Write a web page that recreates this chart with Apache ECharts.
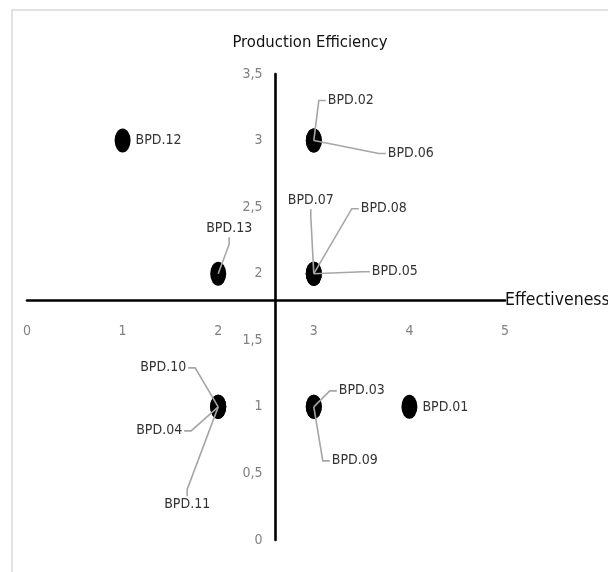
<!DOCTYPE html>
<html>
<head>
<meta charset="utf-8">
<script src="https://cdn.jsdelivr.net/npm/echarts@6/dist/echarts.min.js"></script>
<style>
html,body{margin:0;padding:0;background:#fff;}
#chart{width:608px;height:572px;}
</style>
</head>
<body>
<div id="chart"></div>
<script>
// ---- data ----
const names = ['BPD.01','BPD.02','BPD.03','BPD.04','BPD.05','BPD.06','BPD.07','BPD.08','BPD.09','BPD.10','BPD.11','BPD.12','BPD.13'];
const effectiveness = [4,3,3,2,3,3,3,3,3,2,2,1,2];
const productionEfficiency = [1,3,1,1,2,3,2,2,1,1,1,3,2];
const xTickLabels = ['0','1','2','3','4','5'];
const yTickLabels = ['0','0,5','1','1,5','2','2,5','3','3,5'];
const xAxisTitle = 'Effectiveness';
const yAxisTitle = 'Production Efficiency';
// axis crossing values (where each axis line crosses the other axis)
const xCross = 2.6;
const yCross = 1.8;

// ---- layout / style ----
const FONT = "'DejaVu Sans Condensed','Liberation Sans',sans-serif";
const LABEL_SIZE = 14;
const grid = {left: 27, top: 74, width: 478, height: 466};
const xMin = 0, xMax = 5, yMin = 0, yMax = 3.5;
const SYM_W = 16, SYM_H = 24, LABEL_DIST = 5;
const labelDx = [0, 1, 12, -95, 45, 61, -39, 34, 5, -91, -67, 0, -25];
const labelDy = [1, -40, -16, 24, -2, 13, -73, -65, 54, -39, 98, 0, -45];
const leaderSide = ['none','left','left','right','left','left','bottom','left','left','right','top','none','bottom'];
const LEADER_STUB = 7;

const chart = echarts.init(document.getElementById('chart'), null, {renderer: 'canvas'});

const measureCtx = document.createElement('canvas').getContext('2d');
measureCtx.font = LABEL_SIZE + 'px ' + FONT;

const points = names.map((n, i) => ({name: n, value: [effectiveness[i], productionEfficiency[i]]}));

const xOffset = -(yCross - yMin) / (yMax - yMin) * grid.height;
const yOffset = -(xCross - xMin) / (xMax - xMin) * grid.width;

function renderLeader(params, api) {
  const i = params.dataIndex;
  const side = leaderSide[i];
  if (side === 'none') return null;
  const c = api.coord([api.value(0), api.value(1)]);
  const w = measureCtx.measureText(names[i]).width;
  const h = LABEL_SIZE + 3;
  const left = c[0] + SYM_W / 2 + LABEL_DIST + labelDx[i];
  const cy = c[1] + labelDy[i];
  let a, d;
  if (side === 'left') { a = [left - 2, cy]; d = [-1, 0]; }
  else if (side === 'right') { a = [left + w + 2, cy]; d = [1, 0]; }
  else if (side === 'top') { a = [left + w / 2, cy - h / 2]; d = [0, -1]; }
  else { a = [left + w / 2, cy + h / 2]; d = [0, 1]; }
  const p1 = [a[0] + d[0] * LEADER_STUB, a[1] + d[1] * LEADER_STUB];
  return {
    type: 'polyline',
    shape: {points: [c, p1, a]},
    style: {stroke: '#a6a6a6', lineWidth: 1.6, fill: null},
    silent: true
  };
}

const option = {
  animation: false,
  backgroundColor: '#ffffff',
  title: {
    text: yAxisTitle,
    left: 305,
    top: 29,
    textAlign: 'center',
    textStyle: {fontFamily: FONT, fontSize: 16.5, fontWeight: 'normal', color: '#111'}
  },
  graphic: [{
    type: 'rect',
    shape: {x: 12, y: 10, width: 800, height: 800},
    style: {fill: 'none', stroke: '#d9d9d9', lineWidth: 1.5},
    silent: true
  }],
  grid: Object.assign({containLabel: false, outerBoundsMode: 'none'}, grid),
  xAxis: {
    type: 'value',
    min: xMin, max: xMax, interval: 1,
    position: 'bottom',
    offset: xOffset,
    name: xAxisTitle,
    nameLocation: 'end',
    nameGap: 0,
    nameMoveOverlap: false,
    nameTextStyle: {fontFamily: FONT, fontSize: 17.5, color: '#111', verticalAlign: 'middle'},
    axisLine: {show: true, onZero: false, lineStyle: {color: '#000', width: 2.6}},
    axisTick: {show: false},
    splitLine: {show: false},
    axisLabel: {
      margin: 24,
      fontFamily: FONT, fontSize: 14, color: '#808080',
      formatter: (v) => xTickLabels[Math.round((v - xMin) / 1)]
    }
  },
  yAxis: {
    type: 'value',
    min: yMin, max: yMax, interval: 0.5,
    position: 'left',
    offset: yOffset,
    axisLine: {show: true, onZero: false, lineStyle: {color: '#000', width: 2.6}},
    axisTick: {show: false},
    splitLine: {show: false},
    axisLabel: {
      margin: 13,
      fontFamily: FONT, fontSize: 14, color: '#808080',
      formatter: (v) => yTickLabels[Math.round((v - yMin) / 0.5)]
    }
  },
  series: [{
    type: 'scatter',
    data: points,
    symbol: 'path://M50,0A50,50,0,1,1,50,100A50,50,0,1,1,50,0Z',
    symbolSize: [SYM_W, SYM_H],
    itemStyle: {color: '#000', opacity: 1},
    label: {
      show: true,
      position: 'right',
      distance: LABEL_DIST,
      formatter: '{b}',
      fontFamily: FONT, fontSize: LABEL_SIZE, color: '#333'
    },
    labelLayout: (p) => ({dx: labelDx[p.dataIndex], dy: labelDy[p.dataIndex], hideOverlap: false}),
    emphasis: {disabled: true},
    z: 2
  }, {
    type: 'custom',
    data: points,
    renderItem: renderLeader,
    silent: true,
    z: 3
  }]
};
chart.setOption(option);
</script>
</body>
</html>
